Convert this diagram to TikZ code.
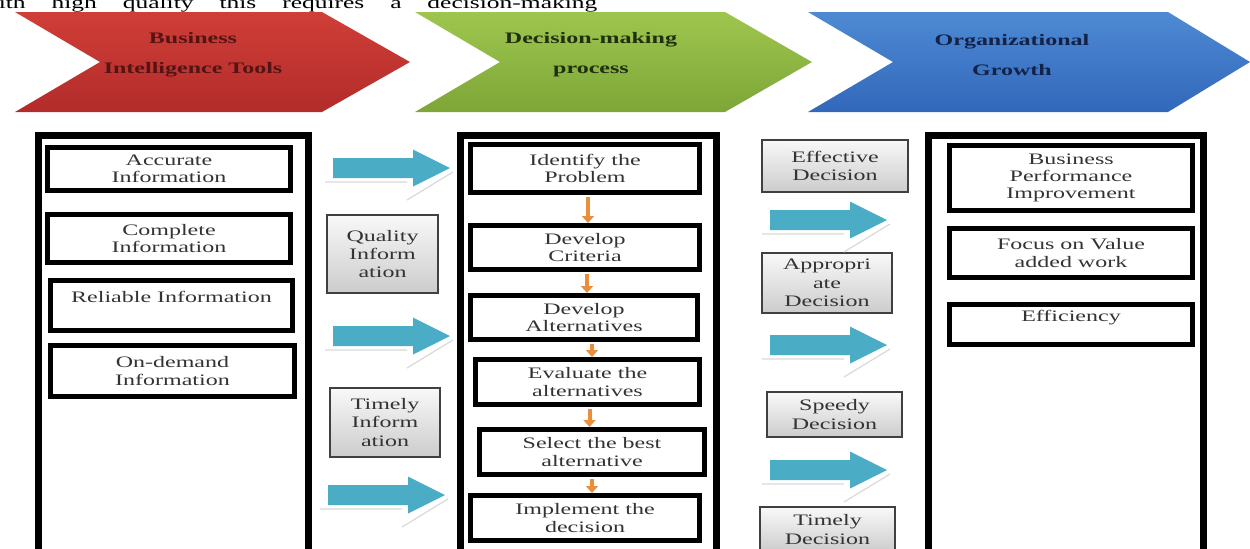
\documentclass[tikz,border=0pt]{standalone}
\usepackage{fontspec}
\newfontfamily\boxfont[FakeStretch=1.5]{Liberation Serif}
\usetikzlibrary{positioning, arrows.meta}
\definecolor{chevred}{RGB}{208,62,56}
\definecolor{chevreddk}{RGB}{178,44,42}
\definecolor{chevgreen}{RGB}{158,198,78}
\definecolor{chevgreendk}{RGB}{126,166,56}
\definecolor{chevblue}{RGB}{78,138,212}
\definecolor{chevbluedk}{RGB}{50,104,186}
\definecolor{aqua}{RGB}{75,172,198}
\definecolor{steporange}{RGB}{234,142,62}

\begin{document}
\begin{tikzpicture}[x=0.5pt, y=-0.5pt,
  chevtext/.style={align=center, font=\boxfont\bfseries\fontsize{8}{15}\selectfont},
  colbox/.style={draw, line width=3.5pt, inner sep=0pt},
  infobox/.style={draw, line width=2.5pt, inner sep=0pt, align=center, text=black!80, font=\boxfont\fontsize{8}{8.6}\selectfont},
  tagbox/.style={draw=black!75, line width=0.8pt, top color=gray!5, bottom color=gray!40, inner sep=0pt, align=center, text=black!80, font=\boxfont\fontsize{8}{9.2}\selectfont},
  steparrow/.style={draw=steporange, line width=2pt, -{Triangle[width=6pt,length=3.5pt]}, shorten <=1pt},
  blockarrow/.pic={
    \draw[gray!30, line width=0.6pt] (-125,14) -- (-43,14) (-43,32) -- (3,4);
    \fill[aqua] (-117,-10) -- (-37,-10) -- (-37,-18.5) -- (0,0) -- (-37,18.5) -- (-37,10) -- (-117,10) -- cycle;
  }]
\clip (0,0) rectangle (1250,548);
\node[anchor=base west, inner sep=0pt, font=\boxfont\fontsize{8.5}{10}\selectfont] (intro) at (-20,8) {\makebox[308.5pt][s]{with high quality this requires a decision-making}};

\path[top color=chevred, bottom color=chevreddk] (15,12) -- (322,12) -- (410,62) -- (322,112) -- (15,112) -- (100,62) -- cycle;
\path[top color=chevgreen, bottom color=chevgreendk] (415,12) -- (725,12) -- (812,62) -- (725,112) -- (415,112) -- (500,62) -- cycle;
\path[top color=chevblue, bottom color=chevbluedk] (808,12) -- (1168,12) -- (1250,62) -- (1168,112) -- (808,112) -- (893,62) -- cycle;
\node[chevtext, text={rgb,255:red,85;green,20;blue,20}] (bit) at (193,55) {Business\\Intelligence Tools};
\node[chevtext, text={rgb,255:red,30;green,48;blue,14}] (dmp) at (591,55) {Decision-making\\process};
\node[chevtext, text={rgb,255:red,18;green,34;blue,72}] (org) at (1012,55) {Organizational\\Growth};

\node[colbox, minimum width=135pt, minimum height=210pt] (toolscol) at (173.5,345.5) {};
\node[colbox, minimum width=128pt, minimum height=210pt] (processcol) at (588.5,345.5) {};
\node[colbox, minimum width=137.5pt, minimum height=210pt] (growthcol) at (1066,345.5) {};

\node[infobox, minimum width=121.5pt, minimum height=21.5pt] (accurate) at (169,169) {Accurate\\Information};
\node[infobox, minimum width=121.5pt, minimum height=24pt] (complete) at (169,238.5) {Complete\\Information};
\node[infobox, minimum width=121pt, minimum height=25pt] (reliable) at (171.5,305.5) {Reliable Information\\ \mbox{}};
\node[infobox, minimum width=122pt, minimum height=25.5pt] (ondemand) at (172.5,371) {On-demand\\Information};

\node[infobox, minimum width=114.5pt, minimum height=24pt] (identify) at (585,168.5) {Identify the\\Problem};
\node[infobox, minimum width=114.5pt, minimum height=22pt] (criteria) at (585,247.5) {Develop\\Criteria};
\node[infobox, minimum width=113.5pt, minimum height=22pt] (alternatives) at (584,317.5) {Develop\\Alternatives};
\node[infobox, minimum width=112pt, minimum height=22.5pt] (evaluate) at (587.5,382) {Evaluate the\\alternatives};
\node[infobox, minimum width=112.5pt, minimum height=22.5pt] (select) at (592,452) {Select the best\\alternative};
\node[infobox, minimum width=114.5pt, minimum height=22.5pt] (implement) at (585,518) {Implement the\\decision};
\draw[steparrow] ([xshift=1.5pt]identify.south) -- ([xshift=1.5pt]identify.south |- criteria.north);
\draw[steparrow] ([xshift=1pt]criteria.south) -- ([xshift=1pt]criteria.south |- alternatives.north);
\draw[steparrow] ([xshift=4pt]alternatives.south) -- ([xshift=4pt]alternatives.south |- evaluate.north);
\draw[steparrow] ([xshift=1pt]evaluate.south) -- ([xshift=1pt]evaluate.south |- select.north);
\draw[steparrow] (select.south) -- (select.south |- implement.north);

\node[infobox, minimum width=121.5pt, minimum height=32.5pt] (performance) at (1071,178) {Business\\Performance\\Improvement};
\node[infobox, minimum width=121.5pt, minimum height=24.5pt] (valuework) at (1071,253) {Focus on Value\\added work};
\node[infobox, minimum width=121.5pt, minimum height=20pt] (efficiency) at (1071,324.5) {Efficiency\\ \mbox{}};

\node[tagbox, minimum width=55.5pt, minimum height=39pt] (qualityinfo) at (382.5,254) {Quality\\Inform\\ation};
\node[tagbox, minimum width=55pt, minimum height=34.5pt] (timelyinfo) at (385,422.5) {Timely\\Inform\\ation};
\node[tagbox, minimum width=73pt, minimum height=26pt] (effective) at (835,166) {Effective\\Decision};
\node[tagbox, minimum width=65pt, minimum height=30pt] (appropriate) at (827,283) {Appropri\\ate\\Decision};
\node[tagbox, minimum width=67.5pt, minimum height=22.5pt] (speedy) at (834.5,414.5) {Speedy\\Decision};
\node[tagbox, minimum width=67.5pt, minimum height=22.5pt] (timelydec) at (827.5,529.5) {Timely\\Decision};

\pic at (450,168) {blockarrow};
\pic at (450,336) {blockarrow};
\pic at (445,495) {blockarrow};
\pic at (887,220) {blockarrow};
\pic at (887,345) {blockarrow};
\pic at (887,470) {blockarrow};
\end{tikzpicture}
\end{document}
